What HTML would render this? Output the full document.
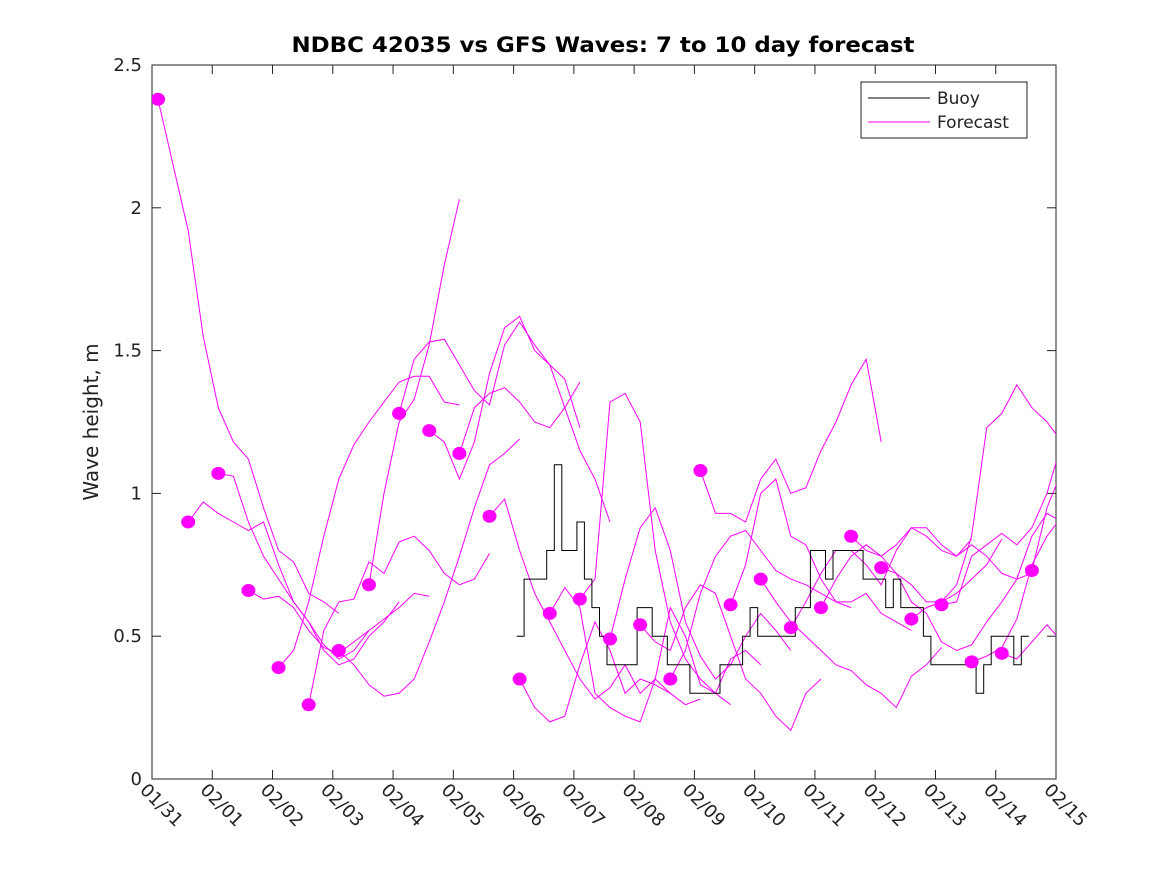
<!DOCTYPE html>
<html><head><meta charset="utf-8"><style>
body{margin:0;background:#fff;}
svg{display:block;font-family:"DejaVu Sans","Liberation Sans",sans-serif;}
</style></head><body>
<svg id="chart" width="1167" height="875">
<defs><clipPath id="plotclip"><rect x="152" y="65" width="904" height="714"/></clipPath></defs>
<rect x="0" y="0" width="1167" height="875" fill="#fff"/>
<text x="603" y="52" text-anchor="middle" font-size="21" font-weight="bold" fill="#000" textLength="623" lengthAdjust="spacingAndGlyphs">NDBC 42035 vs GFS Waves: 7 to 10 day forecast</text>
<text transform="translate(98,422) rotate(-90)" text-anchor="middle" font-size="20" fill="#222">Wave height, m</text>
<g id="axes"></g>
<g id="series" clip-path="url(#plotclip)"></g>
<g id="legend">
<rect x="861" y="82" width="166" height="56" fill="#fff" stroke="#222" stroke-width="1"/>
<line x1="868" y1="98" x2="930" y2="98" stroke="#000" stroke-width="1"/>
<text x="937" y="104" font-size="17" fill="#222">Buoy</text>
<line x1="868" y1="122" x2="930" y2="122" stroke="#f0f" stroke-width="1"/>
<text x="937" y="128" font-size="17" fill="#222">Forecast</text>
</g>
</svg>
<script>
const yTicks=[0,0.5,1,1.5,2,2.5];
const yTickLabels=["0","0.5","1","1.5","2","2.5"];
const xTickLabels=["01/31","02/01","02/02","02/03","02/04","02/05","02/06","02/07","02/08","02/09","02/10","02/11","02/12","02/13","02/14","02/15"];
const forecastStarts=[0.1,0.6,1.1,1.6,2.1,2.6,3.1,3.6,4.1,4.6,5.1,5.6,6.1,6.6,7.1,7.6,8.1,8.6,9.1,9.6,10.1,10.6,11.1,11.6,12.1,12.6,13.1,13.6,14.1,14.6];
const forecastValues=[
[2.38,2.15,1.92,1.55,1.30,1.18,1.12,0.95,0.80,0.76,0.65,0.62,0.58],
[0.90,0.97,0.93,0.90,0.87,0.90,0.75,0.62,0.55,0.47,0.42,0.45,0.52],
[1.07,1.06,0.90,0.78,0.70,0.62,0.55,0.45,0.40,0.42,0.50,0.55,0.62],
[0.66,0.63,0.64,0.60,0.52,0.46,0.44,0.48,0.52,0.56,0.60,0.65,0.64],
[0.39,0.45,0.62,0.85,1.05,1.17,1.25,1.32,1.39,1.41,1.41,1.32,1.31],
[0.26,0.52,0.62,0.63,0.76,0.72,0.83,0.85,0.80,0.72,0.68,0.70,0.79],
[0.45,0.40,0.33,0.29,0.30,0.35,0.48,0.62,0.78,0.95,1.10,1.14,1.19],
[0.68,1.00,1.25,1.33,1.52,1.80,2.03],
[1.28,1.47,1.53,1.54,1.45,1.36,1.31,1.52,1.60,1.52,1.45,1.40,1.23],
[1.22,1.18,1.05,1.18,1.42,1.58,1.62,1.50,1.45,1.30,1.15,1.05,0.90],
[1.14,1.30,1.35,1.37,1.32,1.25,1.23,1.30,1.39],
[0.92,0.98,0.80,0.65,0.55,0.45,0.35,0.28,0.32,0.40,0.30,0.35,0.30],
[0.35,0.25,0.20,0.22,0.40,0.55,0.45,0.30,0.35,0.33,0.30,0.26,0.28],
[0.58,0.67,0.60,0.30,0.25,0.22,0.20,0.35,0.60,0.50,0.33,0.30,0.26],
[0.63,0.70,1.32,1.35,1.25,0.80,0.55,0.42,0.35,0.30,0.42,0.45,0.40],
[0.49,0.70,0.88,0.95,0.80,0.55,0.43,0.35,0.40,0.50,0.58,0.52,0.45],
[0.54,0.48,0.45,0.60,0.68,0.65,0.50,0.35,0.30,0.22,0.17,0.30,0.35],
[0.35,0.45,0.65,0.78,0.85,0.87,0.80,0.73,0.70,0.68,0.65,0.62,0.60],
[1.08,0.93,0.93,0.90,1.05,1.12,1.00,1.02,1.15,1.25,1.38,1.47,1.18],
[0.61,0.75,1.00,1.05,0.85,0.82,0.70,0.62,0.62,0.65,0.58,0.55,0.52],
[0.70,0.62,0.55,0.50,0.45,0.40,0.38,0.33,0.30,0.25,0.36,0.40,0.46],
[0.53,0.62,0.72,0.80,0.80,0.75,0.68,0.80,0.88,0.88,0.82,0.78,0.84],
[0.60,0.70,0.78,0.82,0.78,0.72,0.68,0.62,0.62,0.65,0.70,0.75,0.84],
[0.85,0.80,0.78,0.82,0.88,0.85,0.80,0.78,0.82,0.78,0.72,0.70,0.72],
[0.74,0.72,0.62,0.58,0.48,0.45,0.47,0.55,0.62,0.70,0.85,0.93,0.90],
[0.56,0.60,0.62,0.68,0.85,1.23,1.28,1.38,1.30,1.25,1.18,1.00,0.97],
[0.61,0.62,0.78,0.82,0.86,0.82,0.88,1.00,1.18,1.02,1.00,1.05,1.12],
[0.41,0.43,0.46,0.56,0.75,0.85,0.92,0.97,1.02,1.00,0.95],
[0.44,0.42,0.48,0.54,0.48,0.42],
[0.73,0.95,1.08]
];
const buoyStart=6.05;
const buoyValues=[0.5,0.7,0.7,0.7,0.8,1.1,0.8,0.8,0.9,0.7,0.6,0.5,0.4,0.4,0.4,0.4,0.6,0.6,0.5,0.5,0.4,0.4,0.4,0.3,0.3,0.3,0.3,0.4,0.4,0.4,0.5,0.6,0.5,0.5,0.5,0.5,0.5,0.6,0.6,0.8,0.8,0.7,0.8,0.8,0.8,0.8,0.7,0.7,0.7,0.6,0.7,0.6,0.6,0.6,0.5,0.4,0.4,0.4,0.4,0.4,0.4,0.3,0.4,0.5,0.5,0.5,0.4,0.5];
const forecastStep=0.25, buoyStep=0.125;

const X0=152,X1=1056,Y0=779,Y1=65;
const xs=d=>X0+(X1-X0)*d/15;
const ys=v=>Y0-(Y0-Y1)*v/2.5;
const NS="http://www.w3.org/2000/svg";
function mk(tag,attrs,parent){const e=document.createElementNS(NS,tag);for(const k in attrs)e.setAttribute(k,attrs[k]);parent.appendChild(e);return e;}
const axes=document.getElementById('axes'), ser=document.getElementById('series');
const frame=mk('rect',{x:X0,y:Y1,width:X1-X0,height:Y0-Y1,fill:'none',stroke:'#222','stroke-width':1},axes);


yTicks.forEach((t,i)=>{
  const y=ys(t);
  mk('line',{x1:X0,y1:y,x2:X0+9,y2:y,stroke:'#222'},axes);
  mk('line',{x1:X1,y1:y,x2:X1-9,y2:y,stroke:'#222'},axes);
  const tx=mk('text',{x:X0-10,y:y+6,'text-anchor':'end','font-size':18,fill:'#222'},axes);
  tx.textContent=yTickLabels[i];
  
  
});
xTickLabels.forEach((l,i)=>{
  const x=xs(i);
  mk('line',{x1:x,y1:Y0,x2:x,y2:Y0-9,stroke:'#222'},axes);
  mk('line',{x1:x,y1:Y1,x2:x,y2:Y1+9,stroke:'#222'},axes);
  const tx=mk('text',{transform:`translate(${x-13},${Y0+12}) rotate(45)`,'font-size':18,fill:'#222'},axes);
  tx.textContent=l;
  
  
});
forecastValues.forEach((vals,k)=>{
  const s=forecastStarts[k];
  const pts=vals.map((v,i)=>xs(s+i*forecastStep).toFixed(1)+','+ys(v).toFixed(1)).join(' ');
  const pl=mk('polyline',{points:pts,fill:'none',stroke:'#f0f','stroke-width':1},ser);
  
  
});
let bp=[];
buoyValues.forEach((v,i)=>{
  const x0=xs(buoyStart+i*buoyStep), x1=xs(buoyStart+(i+1)*buoyStep);
  bp.push(x0.toFixed(1)+','+ys(v).toFixed(1)); bp.push(x1.toFixed(1)+','+ys(v).toFixed(1));
});
const bl=mk('polyline',{points:bp.join(' '),fill:'none',stroke:'#000','stroke-width':1},ser);


forecastValues.forEach((vals,k)=>{
  const c=mk('ellipse',{cx:xs(forecastStarts[k]),cy:ys(vals[0]),rx:7,ry:6.5,fill:'#f0f'},ser);
  
  
});
</script>
</body></html>
